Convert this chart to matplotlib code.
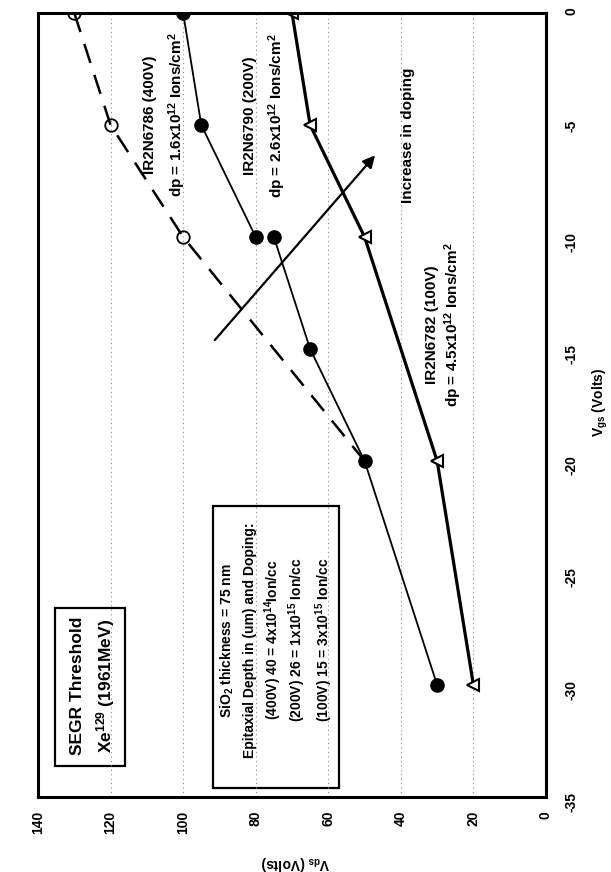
import matplotlib
matplotlib.use('Agg')
import matplotlib.pyplot as plt
from matplotlib.patches import Rectangle

plt.rcParams['font.family'] = ['Liberation Sans', 'DejaVu Sans']
plt.rcParams['font.weight'] = 'bold'
plt.rcParams['mathtext.fontset'] = 'custom'
for k in ('rm', 'it', 'bf', 'sf'):
    plt.rcParams['mathtext.' + k] = 'Liberation Sans:bold'

# SEGR threshold curves, Vgs (V) vs Vds (V)
vgs_thr = [0, -5, -10, -20]
vds_thr = [130, 120, 100, 50]

vgs_400 = [0, -5, -10]
vds_400 = [100, 95, 80]

vgs_200 = [-10, -15, -20, -30]
vds_200 = [75, 65, 50, 30]

vgs_100 = [0, -5, -10, -20, -30]
vds_100 = [70, 65, 50, 30, 20]

vds_ticks = [0, 20, 40, 60, 80, 100, 120, 140]
vgs_ticks = [-35, -30, -25, -20, -15, -10, -5, 0]

fig = plt.figure(figsize=(6.11, 8.72), dpi=100)
# page is turned: Vds runs right-to-left along the bottom, Vgs up the right side
ax = fig.add_axes([38/611, 1-797/872, 508/611, 784/872])

ax.plot(vds_thr, vgs_thr, color='k', lw=1.8, dashes=(8, 5),
        marker='o', ms=9, mfc='none', mec='k', mew=1.3, markevery=[0, 1, 2])
ax.plot(vds_400, vgs_400, color='k', lw=1.3, marker='o', ms=9.5, mfc='k', mec='k')
ax.plot(vds_200, vgs_200, color='k', lw=1.3, marker='o', ms=9.5, mfc='k', mec='k')
ax.plot(vds_100, vgs_100, color='k', lw=2.3, marker='<', ms=9, mfc='white', mec='k', mew=1.5)

ax.set_xlim(140, 0)
ax.set_ylim(-35, 0)
ax.set_xticks(vds_ticks)
ax.set_yticks(vgs_ticks)
ax.set_xticklabels([str(v) for v in vds_ticks])
ax.set_yticklabels([str(v) for v in vgs_ticks])
ax.yaxis.tick_right()
ax.tick_params(axis='x', length=0, pad=10, labelsize=10, labelrotation=90)
ax.tick_params(axis='y', length=0, pad=13, labelsize=10, labelrotation=90)
ax.grid(axis='x', linestyle=(0, (1, 3)), color='0.55', lw=0.8)
for sp in ax.spines.values():
    sp.set_linewidth(2.2)

fig.text(295/611, 1-863/872, r'V$_{ds}$ (Volts)', rotation=180,
         ha='center', va='center', fontsize=10)
fig.text(600/611, 1-402/872, r'V$_{gs}$ (Volts)', rotation=90,
         ha='center', va='center', fontsize=10)


def put(x, y, s, size=11):
    ax.text(x, y, s, rotation=90, ha='center', va='center', fontsize=size)


put(109.1, -4.55, 'IR2N6786 (400V)')
put(101.7, -4.55, r'dp = 1.6x10$^{12}$ Ions/cm$^{2}$')
put(81.6, -4.6, 'IR2N6790 (200V)')
put(74.1, -4.6, r'dp = 2.6x10$^{12}$ Ions/cm$^{2}$')
put(38.0, -5.45, 'Increase in doping')
put(31.4, -13.9, 'IR2N6782 (100V)')
put(25.6, -13.9, r'dp = 4.5x10$^{12}$ Ions/cm$^{2}$')

# doping arrow
ax.annotate('', xy=(46.6, -6.26), xytext=(91.8, -14.7),
            arrowprops=dict(arrowstyle='-|>', lw=1.6, color='k', mutation_scale=18))

# SEGR box
ax.add_patch(Rectangle((115.9, -33.6), 19.4, 7.05, fill=False, lw=1.6, ec='k'))
put(129.2, -30.05, 'SEGR Threshold', 12.5)
put(121.5, -30.05, r'Xe$^{129}$ (1961MeV)', 12.5)

# process box
ax.add_patch(Rectangle((57.0, -34.6), 34.8, 12.6, fill=False, lw=1.6, ec='k'))
box_lines = [r'SiO$_{2}$ thickness = 75 nm',
             'Epitaxial Depth in (um) and Doping:',
             r'(400V) 40 = 4x10$^{14}$Ion/cc',
             r'(200V) 26 = 1x10$^{15}$ Ion/cc',
             r'(100V) 15 = 3x10$^{15}$ Ion/cc']
for xv, s in zip([87.9, 81.6, 75.2, 68.6, 61.2], box_lines):
    put(xv, -28.0, s, 10)

fig.savefig('out.png', dpi=100)
